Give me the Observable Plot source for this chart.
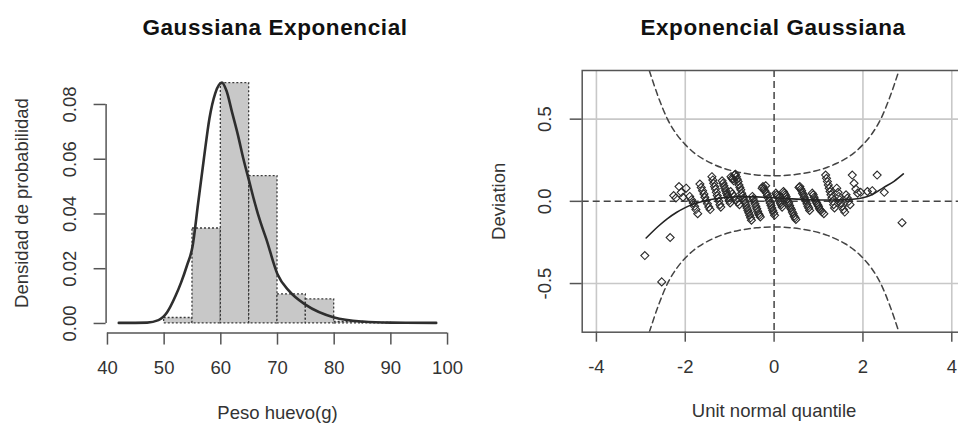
<!DOCTYPE html>
<html><head><meta charset="utf-8">
<script src="https://cdn.jsdelivr.net/npm/d3@7"></script>
<script src="https://cdn.jsdelivr.net/npm/@observablehq/plot@0.6"></script>
<style>
html,body{margin:0;padding:0;background:#fff;}
#wrap{position:relative;width:958px;height:425px;overflow:hidden;font-family:"Liberation Sans",Arial,sans-serif;}
.title{position:absolute;top:15px;line-height:26px;font-weight:bold;font-size:22.5px;letter-spacing:0.6px;color:#111;transform:translateX(-50%);white-space:nowrap;}
.panel{position:absolute;top:0;}
.panel svg{max-width:none !important;}
</style></head><body>
<div id="wrap">
<div class="panel" id="left" style="left:0;width:480px;height:425px"></div>
<div class="panel" id="right" style="left:480px;width:500px;height:425px"></div>
<div class="title" style="left:275px">Gaussiana Exponencial</div>
<div class="title" style="left:773px">Exponencial Gaussiana</div>
</div>
<script>
// ---- Left panel: histogram + fitted density ----
const binStart   = [50, 55, 60, 65, 70, 75, 80, 85];
const binEnd     = [55, 60, 65, 70, 75, 80, 85, 90];
const binDensity = [0.002, 0.0347, 0.0878, 0.0538, 0.0106, 0.0088, 0.0006, 0.0002];

const densX = [42, 47, 49, 50.5, 52, 53, 54, 55, 56, 57, 58, 59, 60.2, 61, 62, 63, 64, 65, 66, 67, 68, 70, 72, 75, 80, 85, 90, 98];
const densY = [0.0002, 0.0003, 0.0012, 0.004, 0.010, 0.015, 0.021, 0.028, 0.044, 0.060, 0.075, 0.084, 0.088, 0.085, 0.077, 0.069, 0.060, 0.052, 0.044, 0.037, 0.031, 0.018, 0.012, 0.0068, 0.0022, 0.0007, 0.0003, 0.0002];

const histXTicks = [40, 50, 60, 70, 80, 90, 100];
const histYTicks = [0, 0.02, 0.04, 0.06, 0.08];

// ---- Right panel: worm plot ----
const qz = [-2.91,-2.53,-2.34,
 -2.26,-2.21,-2.14,-2.09,-2.05,-1.98,
 -1.90,-1.86,-1.82,-1.79,-1.76,-1.72,
 -1.67,-1.64,-1.61,-1.58,-1.56,-1.53,-1.50,-1.47,-1.44,
 -1.40,-1.38,-1.36,-1.34,-1.32,-1.30,-1.28,-1.26,-1.24,-1.22,-1.20,
 -1.17,-1.15,-1.13,-1.11,-1.09,-1.07,-1.05,-1.03,-1.01,-0.99,
 -0.97,-0.95,-0.93,-0.91,-0.89,-0.87,-0.85,-0.83,-0.81,-0.79,-0.77,-0.75,-0.73,-0.71,-0.69,-0.67,-0.65,-0.63,-0.61,-0.59,-0.57,-0.55,-0.53,-0.51,
 -0.98,-0.94,-0.90,-0.86,-0.82,-0.78,
 -0.49,-0.47,-0.45,-0.43,-0.41,-0.39,-0.37,-0.35,-0.33,-0.31,
 -0.27,-0.25,-0.23,-0.21,-0.19,-0.17,-0.15,-0.13,-0.11,-0.09,-0.07,-0.05,-0.03,-0.01,0.01,
 0.04,0.06,0.08,0.10,0.12,0.14,0.16,0.18,
 0.21,0.23,0.25,0.27,0.29,0.31,0.33,0.35,0.37,0.39,0.41,0.43,0.45,0.47,0.49,
 0.56,0.58,0.60,0.62,0.64,0.66,0.68,0.70,0.72,0.74,0.76,0.78,0.80,
 0.86,0.88,0.90,0.92,0.94,0.96,0.98,1.00,1.02,1.05,1.08,1.12,
 1.16,1.18,1.20,1.22,1.24,1.26,1.28,1.30,1.32,1.34,1.36,
 1.41,1.44,1.46,1.48,1.50,1.53,1.56,1.59,
 1.62,1.65,1.68,1.71,
 1.76,1.80,1.84,1.88,1.95,
 2.10,2.21,2.32,2.48,2.88];
const qd = [-0.33,-0.49,-0.22,
 0.035,0.02,0.09,0.055,0.025,0.08,
 0.03,0.01,-0.01,-0.03,-0.05,-0.075,
 0.105,0.085,0.065,0.045,0.025,0.005,-0.015,-0.035,-0.05,
 0.15,0.13,0.11,0.09,0.075,0.055,0.035,0.02,0.0,-0.02,-0.035,
 0.125,0.11,0.095,0.08,0.065,0.05,0.035,0.02,0.005,-0.01,
 0.15,0.14,0.135,0.125,0.16,0.165,0.15,0.135,0.12,0.10,0.085,0.07,0.05,0.035,0.02,0.005,-0.01,-0.025,-0.04,-0.055,-0.07,-0.085,-0.10,-0.115,
 0.06,0.045,0.03,0.01,-0.005,-0.02,
 0.03,0.015,0.0,-0.015,-0.03,-0.045,-0.06,-0.075,-0.085,-0.095,
 0.08,0.09,0.075,0.065,0.095,0.05,0.035,0.02,0.005,-0.01,-0.025,-0.04,-0.055,-0.07,-0.085,
 0.05,0.04,0.03,0.02,0.005,-0.01,-0.02,-0.035,
 0.06,0.05,0.04,0.03,0.015,0.0,-0.01,-0.025,-0.04,-0.05,-0.065,-0.075,-0.09,-0.10,-0.11,
 0.085,0.09,0.075,0.065,0.05,0.04,0.025,0.01,0.0,-0.015,-0.03,-0.04,-0.055,
 0.05,0.04,0.025,0.01,0.0,-0.01,-0.02,-0.03,-0.045,-0.055,-0.065,-0.075,
 0.16,0.14,0.12,0.10,0.08,0.06,0.04,0.02,0.0,-0.02,-0.04,
 0.08,0.055,0.03,0.01,-0.01,-0.03,-0.05,-0.065,
 0.04,0.02,0.0,-0.02,
 0.16,0.11,0.075,0.05,0.055,
 0.06,0.065,0.16,0.055,-0.13];

const wormZ = [-2.88,-2.6,-2.4,-2.2,-2.0,-1.6,-1.2,-0.8,-0.4,0,0.4,0.8,1.2,1.6,2.0,2.2,2.47,2.7,2.91];
const wormD = [-0.223,-0.15,-0.105,-0.068,-0.038,0.0,0.02,0.028,0.027,0.022,0.015,0.01,0.008,0.01,0.022,0.04,0.085,0.122,0.167];

const bandZ     = [-2.81,-2.6,-2.4,-2.2,-2.0,-1.8,-1.6,-1.4,-1.2,-1.0,-0.8,-0.6,-0.4,-0.2,0,0.2,0.4,0.6,0.8,1.0,1.2,1.4,1.6,1.8,2.0,2.2,2.4,2.6,2.81];
const bandUpper = [0.796,0.63,0.50,0.41,0.345,0.295,0.258,0.230,0.207,0.190,0.177,0.168,0.161,0.157,0.156,0.157,0.161,0.168,0.177,0.190,0.207,0.230,0.258,0.295,0.345,0.41,0.50,0.63,0.796];
const bandLower = [-0.796,-0.63,-0.50,-0.41,-0.345,-0.295,-0.258,-0.230,-0.207,-0.190,-0.177,-0.168,-0.161,-0.157,-0.156,-0.157,-0.161,-0.168,-0.177,-0.190,-0.207,-0.230,-0.258,-0.295,-0.345,-0.41,-0.50,-0.63,-0.796];

const wormXTicks = [-4, -2, 0, 2, 4];
const wormYTicks = [-0.5, 0, 0.5];
const wormGridX = [-4, -2, 2, 4];
const wormGridY = [-0.5, 0.5];

// tables built from arrays
const hist = binStart.map((s, i) => ({x1: s, x2: binEnd[i], d: binDensity[i]}));
const dens = densX.map((x, i) => ({x, y: densY[i]}));
const pts = qz.map((z, i) => ({z, d: qd[i]}));
const worm = wormZ.map((z, i) => ({z, d: wormD[i]}));
const upper = bandZ.map((z, i) => ({z, d: bandUpper[i]}));
const lower = bandZ.map((z, i) => ({z, d: bandLower[i]}));

const FONT = "Liberation Sans, Arial, sans-serif";
const AX = "#555";
const TXT = "#333";

const hxMin = 39.76, hxMax = 100.24, hyMin = -0.00352, hyMax = 0.0915;
const left = Plot.plot({
  width: 480, height: 425,
  marginLeft: 105.6, marginRight: 31.6, marginTop: 72.5, marginBottom: 92.4,
  x: {domain: [hxMin, hxMax], label: null},
  y: {domain: [hyMin, hyMax], label: null},
  style: {fontFamily: FONT, fontSize: "18px", color: TXT, background: "transparent", overflow: "visible", maxWidth: "none"},
  marks: [
    Plot.rectY(hist, {x1: "x1", x2: "x2", y1: 0, y2: "d", fill: "#c8c8c8", stroke: "#3a3a3a", strokeDasharray: "2,2", strokeWidth: 1.3}),
    Plot.line(dens, {x: "x", y: "y", stroke: "#2e2e2e", strokeWidth: 2.6, curve: "monotone-x"}),
    Plot.ruleY([hyMin], {x1: 40, x2: 100, stroke: AX, strokeWidth: 1.5}),
    Plot.ruleX([hxMin], {y1: 0, y2: 0.08, stroke: AX, strokeWidth: 1.5}),
    Plot.axisX(histXTicks, {tickSize: 12, tickFormat: () => "", stroke: AX, strokeWidth: 1.5, label: null}),
    Plot.axisY(histYTicks, {tickSize: 12, tickFormat: () => "", stroke: AX, strokeWidth: 1.5, label: null}),
    Plot.text(histXTicks, {x: d => d, frameAnchor: "bottom", dy: 35, text: d => String(d), lineAnchor: "middle", fill: TXT, fontSize: 18.5}),
    Plot.text(histYTicks, {y: d => d, frameAnchor: "left", dx: -36, rotate: -90, text: d => d.toFixed(2), textAnchor: "middle", lineAnchor: "middle", fill: TXT, fontSize: 18.5}),
    Plot.text(["Peso huevo(g)"], {frameAnchor: "bottom", dy: 80, text: d => d, lineAnchor: "middle", fill: TXT, fontSize: 18.5}),
    Plot.text(["Densidad de probabilidad"], {frameAnchor: "left", dx: -84, rotate: -90, text: d => d, textAnchor: "middle", lineAnchor: "middle", fill: TXT, fontSize: 18.5})
  ]
});
document.getElementById("left").append(left);

const right = Plot.plot({
  width: 500, height: 425,
  marginLeft: 101.7, marginRight: 14.5, marginTop: 70, marginBottom: 93.3,
  x: {domain: [-4.32, 4.32], label: null},
  y: {domain: [-0.796, 0.796], label: null},
  style: {fontFamily: FONT, fontSize: "18px", color: TXT, background: "transparent", overflow: "visible", maxWidth: "none"},
  marks: [
    Plot.ruleY(wormGridY, {y: d => d, stroke: "#c8c8c8", strokeWidth: 1.6}),
    Plot.ruleX(wormGridX, {x: d => d, stroke: "#c8c8c8", strokeWidth: 1.6}),
    Plot.ruleY([0], {stroke: "#444", strokeWidth: 1.5, strokeDasharray: "7,4"}),
    Plot.ruleX([0], {stroke: "#444", strokeWidth: 1.5, strokeDasharray: "7,4"}),
    Plot.line(upper, {x: "z", y: "d", stroke: "#444", strokeWidth: 1.5, strokeDasharray: "6,4", curve: "monotone-x", clip: true}),
    Plot.line(lower, {x: "z", y: "d", stroke: "#444", strokeWidth: 1.5, strokeDasharray: "6,4", curve: "monotone-x", clip: true}),
    Plot.dot(pts, {x: "z", y: "d", symbol: "diamond2", r: 3.6, stroke: "#2a2a2a", fill: "none", strokeWidth: 1.1}),
    Plot.line(worm, {x: "z", y: "d", stroke: "#222", strokeWidth: 1.6, curve: "monotone-x"}),
    Plot.frame({stroke: AX, strokeWidth: 1.5}),
    Plot.axisX(wormXTicks, {tickSize: 10, tickFormat: () => "", stroke: AX, strokeWidth: 1.5, label: null}),
    Plot.axisY(wormYTicks, {tickSize: 12, tickFormat: () => "", stroke: AX, strokeWidth: 1.5, label: null}),
    Plot.text(wormXTicks, {x: d => d, frameAnchor: "bottom", dy: 35, text: d => String(d), lineAnchor: "middle", fill: TXT, fontSize: 18.5}),
    Plot.text(wormYTicks, {y: d => d, frameAnchor: "left", dx: -37, rotate: -90, text: d => d.toFixed(1), textAnchor: "middle", lineAnchor: "middle", fill: TXT, fontSize: 18.5}),
    Plot.text(["Unit normal quantile"], {frameAnchor: "bottom", dy: 79, text: d => d, lineAnchor: "middle", fill: TXT, fontSize: 18.5}),
    Plot.text(["Deviation"], {frameAnchor: "left", dx: -83.4, rotate: -90, text: d => d, textAnchor: "middle", lineAnchor: "middle", fill: TXT, fontSize: 18.5})
  ]
});
document.getElementById("right").append(right);
</script>
</body></html>
